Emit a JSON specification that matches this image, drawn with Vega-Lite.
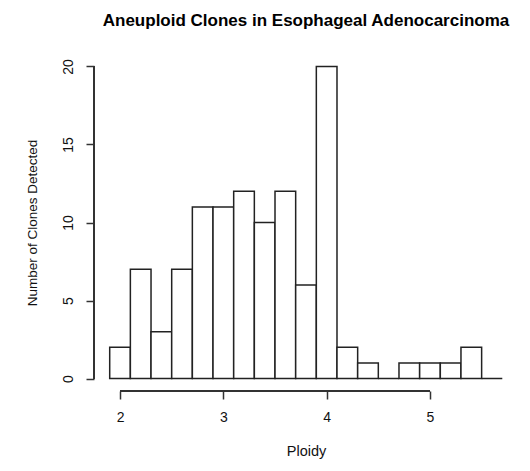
{
  "$schema": "https://vega.github.io/schema/vega-lite/v6.json",
  "autosize": "none",
  "width": 424,
  "height": 337,
  "padding": {"left": 94, "top": 54, "right": 12, "bottom": 80},
  "background": "white",
  "config": {
    "view": {"stroke": null},
    "font": "Liberation Sans",
    "axis": {"labelFont": "Liberation Sans", "titleFont": "Liberation Sans", "labelColor": "#111", "titleColor": "#111", "titleFontWeight": "normal", "grid": false, "domain": false, "tickColor": "#333", "tickWidth": 1.5}
  },
  "title": {"text": "Aneuploid Clones in Esophageal Adenocarcinoma", "font": "Liberation Sans", "fontSize": 17, "fontWeight": "bold", "color": "#000", "anchor": "middle", "offset": 24},
  "data": {"values": [
    {"bin_start": 1.9, "bin_end": 2.1, "count": 2},
    {"bin_start": 2.1, "bin_end": 2.3, "count": 7},
    {"bin_start": 2.3, "bin_end": 2.5, "count": 3},
    {"bin_start": 2.5, "bin_end": 2.7, "count": 7},
    {"bin_start": 2.7, "bin_end": 2.9, "count": 11},
    {"bin_start": 2.9, "bin_end": 3.1, "count": 11},
    {"bin_start": 3.1, "bin_end": 3.3, "count": 12},
    {"bin_start": 3.3, "bin_end": 3.5, "count": 10},
    {"bin_start": 3.5, "bin_end": 3.7, "count": 12},
    {"bin_start": 3.7, "bin_end": 3.9, "count": 6},
    {"bin_start": 3.9, "bin_end": 4.1, "count": 20},
    {"bin_start": 4.1, "bin_end": 4.3, "count": 2},
    {"bin_start": 4.3, "bin_end": 4.5, "count": 1},
    {"bin_start": 4.5, "bin_end": 4.7, "count": 0},
    {"bin_start": 4.7, "bin_end": 4.9, "count": 1},
    {"bin_start": 4.9, "bin_end": 5.1, "count": 1},
    {"bin_start": 5.1, "bin_end": 5.3, "count": 1},
    {"bin_start": 5.3, "bin_end": 5.5, "count": 2},
    {"bin_start": 5.5, "bin_end": 5.7, "count": 0}
  ]},
  "layer": [
    {
      "mark": {"type": "rect", "fill": "white", "stroke": "#222", "strokeWidth": 1.5},
      "encoding": {
        "x": {"field": "bin_start", "type": "quantitative",
              "scale": {"domain": [1.748, 5.852], "nice": false, "zero": false},
              "axis": {"values": [2, 3, 4, 5], "title": "Ploidy", "labelFontSize": 14, "titleFontSize": 14.5, "tickSize": 8, "labelPadding": 11, "titlePadding": 20, "format": "d"}},
        "x2": {"field": "bin_end"},
        "y": {"field": "count", "type": "quantitative",
              "scale": {"domain": [-0.8, 20.8], "nice": false, "zero": false},
              "axis": {"values": [0, 5, 10, 15, 20], "title": "Number of Clones Detected", "labelFontSize": 14, "titleFontSize": 13.5, "tickSize": 8, "labelAngle": -90, "labelPadding": 11, "titlePadding": 22}},
        "y2": {"datum": 0}
      }
    },
    {
      "mark": {"type": "rule", "stroke": "#333", "strokeWidth": 1.5},
      "encoding": {"x": {"datum": 2}, "x2": {"datum": 5}, "y": {"datum": -0.8}}
    },
    {
      "mark": {"type": "rule", "stroke": "#333", "strokeWidth": 1.5},
      "encoding": {"x": {"datum": 1.748}, "y": {"datum": 0}, "y2": {"datum": 20}}
    }
  ]
}
